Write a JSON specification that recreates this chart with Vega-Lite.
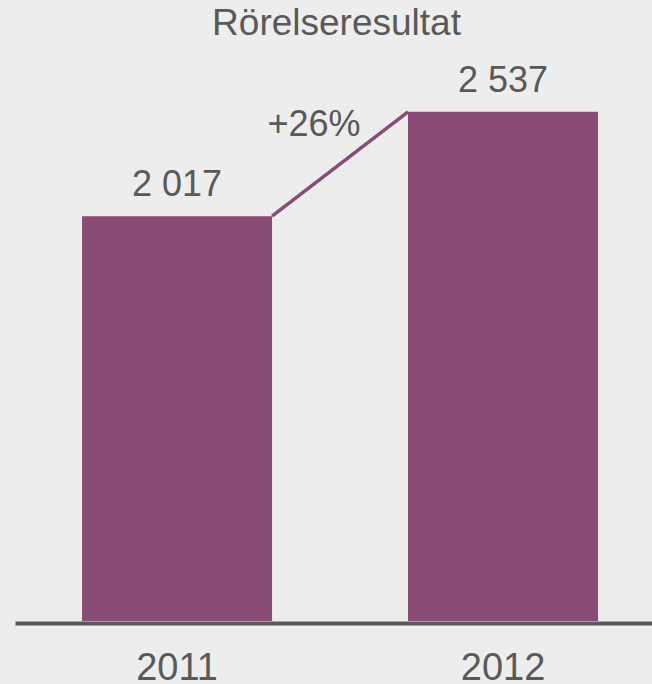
{
  "$schema": "https://vega.github.io/schema/vega-lite/v6.json",
  "width": 637,
  "height": 571,
  "autosize": "none",
  "padding": {"left": 15, "top": 50, "right": 0, "bottom": 63},
  "background": "#ededed",
  "title": {"text": "Rörelseresultat", "fontSize": 37, "font": "Liberation Sans", "fontWeight": "normal", "color": "#595959", "offset": 7, "anchor": "middle", "dx": 3},
  "config": {
    "view": {"stroke": null},
    "font": "Liberation Sans",
    "axisX": {"title": null, "domainColor": "#595959", "domainWidth": 4, "ticks": false, "tickSize": 0, "labelFontSize": 38, "labelColor": "#595959", "labelPadding": 56, "labelAngle": 0, "offset": 2, "labelBaseline": "alphabetic", "grid": false, "labelFont": "Liberation Sans"}
  },
  "layer": [
    {
      "data": {"values": [{"year": "2011", "value": 2017, "label": "2 017"}, {"year": "2012", "value": 2537, "label": "2 537"}]},
      "mark": {"type": "bar", "color": "#8a4c76"},
      "encoding": {
        "x": {"field": "year", "type": "ordinal", "scale": {"paddingInner": 0.417, "paddingOuter": 0.1856, "align": 0.554}},
        "y": {"field": "value", "type": "quantitative", "scale": {"domain": [0, 2845], "nice": false}, "axis": null}
      }
    },
    {
      "data": {"values": [{"year": "2011", "value": 2017, "label": "2 017"}, {"year": "2012", "value": 2537, "label": "2 537"}]},
      "mark": {"type": "text", "fontSize": 36, "color": "#595959", "baseline": "alphabetic", "align": "center", "dy": -20},
      "encoding": {
        "x": {"field": "year", "type": "ordinal"},
        "y": {"field": "value", "type": "quantitative", "axis": null},
        "text": {"field": "label"}
      }
    },
    {
      "data": {"values": [{"from": "2011", "to": "2012", "v1": 2017, "v2": 2537}]},
      "mark": {"type": "rule", "color": "#8a4c76", "strokeWidth": 3.5},
      "encoding": {
        "x": {"field": "from", "type": "ordinal", "bandPosition": 1},
        "x2": {"field": "to", "bandPosition": 0},
        "y": {"field": "v1", "type": "quantitative", "axis": null},
        "y2": {"field": "v2"}
      }
    },
    {
      "data": {"values": [{"year": "2012", "value": 2537, "change": "+26%"}]},
      "mark": {"type": "text", "fontSize": 36, "color": "#595959", "baseline": "alphabetic", "align": "center", "dx": -94, "dy": 24},
      "encoding": {
        "x": {"field": "year", "type": "ordinal", "bandPosition": 0},
        "y": {"field": "value", "type": "quantitative", "axis": null},
        "text": {"field": "change"}
      }
    }
  ]
}
